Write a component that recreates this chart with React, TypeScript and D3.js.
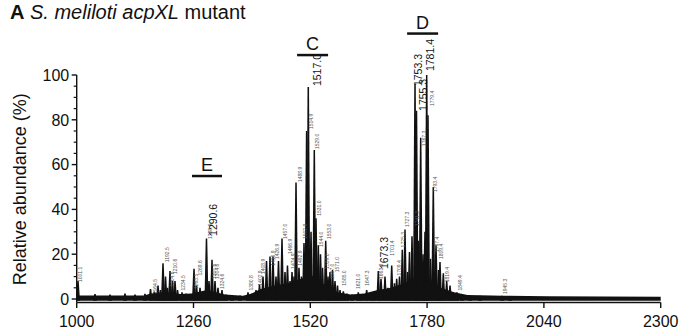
import * as d3 from "d3";

// peaks: [m/z, relative abundance %]
const peaks: [number, number][] = [
  [1002.9, 8], [1040.7, 2.2], [1074.1, 2], [1107.5, 2.5], [1129.8, 2], [1152.0, 2.3],
  [1164.3, 4.5], [1172.7, 3.3], [1181.0, 6], [1186.5, 4], [1192.1, 16], [1197.7, 10],
  [1202.1, 5], [1207.7, 12.5], [1213.3, 8], [1218.8, 8], [1224.4, 4], [1234.4, 3],
  [1243.3, 2.5], [1252.2, 2], [1261.1, 13.5], [1266.7, 6], [1274.5, 5], [1281.1, 3],
  [1288.9, 27], [1294.5, 8], [1301.2, 17.5], [1307.9, 8], [1314.5, 5], [1323.4, 4],
  [1332.3, 2], [1345.7, 1.8], [1363.5, 1.6], [1381.3, 3], [1390.2, 2.5], [1399.1, 4],
  [1406.9, 6.5], [1414.7, 10], [1422.5, 17], [1430.3, 19], [1437.0, 19], [1443.6, 10],
  [1449.2, 17], [1457.0, 27], [1463.7, 12], [1469.2, 15], [1474.8, 8], [1479.3, 12],
  [1483.7, 10], [1488.2, 52], [1494.8, 14], [1500.4, 10], [1506.0, 25], [1511.8, 75],
  [1515.5, 94.6], [1521.6, 30], [1528.9, 66.5], [1532.7, 36], [1537.8, 24], [1542.7, 20],
  [1547.2, 14], [1554.3, 26], [1559.4, 10], [1563.8, 12], [1569.4, 13], [1575.0, 8],
  [1580.5, 6], [1586.1, 4], [1593.5, 3.5], [1601.7, 2.5], [1612.8, 2], [1626.8, 3],
  [1635.1, 2], [1645.5, 4], [1655.1, 2.5], [1661.8, 3.5], [1671.4, 12.5], [1677.4, 9],
  [1686.3, 10], [1692.9, 5], [1701.2, 15], [1707.4, 7], [1712.3, 9], [1718.6, 10],
  [1724.8, 22], [1730.8, 31], [1736.4, 12], [1740.8, 21], [1746.4, 28], [1753.1, 96],
  [1756.4, 84], [1760.9, 26], [1765.7, 72], [1770.9, 20], [1775.3, 30], [1779.1, 100],
  [1782.0, 82], [1787.6, 18], [1793.8, 50], [1799.8, 24], [1805.4, 13], [1808.7, 16.5],
  [1816.1, 11.5], [1823.6, 8], [1831.0, 6], [1837.6, 3], [1846.5, 3], [1857.7, 2],
  [1875.5, 1.5], [1897.7, 1.5], [1946.7, 1.5], [1964.5, 1.2],
];

// unresolved background under the peaks: [m/z, level %]
const background: [number, number][] = [
  [1000, 1.6], [1150, 1.6], [1165, 2.5], [1200, 3], [1230, 2.2], [1255, 2.5],
  [1290, 4], [1310, 3], [1330, 2], [1370, 1.5], [1390, 2.5], [1410, 4.5],
  [1440, 6], [1470, 7], [1500, 9], [1520, 11], [1540, 8], [1560, 5], [1580, 3],
  [1610, 2], [1640, 2.5], [1670, 4], [1700, 5], [1730, 7], [1760, 10], [1790, 8],
  [1810, 5], [1840, 3], [1870, 1.8], [1950, 1.5], [2050, 1.2], [2300, 1.0],
];

// small peak annotations: [m/z of text baseline, level of text start, text]
const smallLabels: [number, number, string][] = [
  [1011.8, 7.1, "1001.1"], [1178.7, 1.8, "1164.5"], [1204.8, 16, "1192.5"],
  [1215.9, 5, "1204.6"], [1223.3, 10.7, "1210.6"], [1241.7, 3.3, "1234.5"],
  [1269.3, 4, "1263.5"], [1278.9, 10, "1269.6"], [1300.5, 26.3, "1288.6"],
  [1309.4, 8.5, "1300.6"], [1316.8, 8.5, "1304.6"], [1327.9, 4, "1324.6"],
  [1391.8, 3.3, "1380.8"], [1412.5, 5.5, "1402.9"], [1419.2, 10.7, "1408.9"],
  [1440.7, 14.4, "1416.9"], [1449.6, 17.4, "1426.9"], [1468.8, 26.3, "1457.0"],
  [1480.0, 19.6, "1466.9"], [1485.3, 13, "1474.9"], [1501.5, 51.8, "1488.9"],
  [1501.5, 14.4, "1492.9"], [1511.9, 26.3, "1502.9"], [1525.3, 75.4, "1514.9"],
  [1540.0, 66.5, "1529.0"], [1543.1, 36.7, "1531.0"], [1548.9, 22.8, "1544.0"],
  [1561.6, 13, "1559.0"], [1566.0, 26.3, "1553.0"], [1573.4, 8.5, "1567.0"],
  [1584.6, 11.5, "1571.0"], [1599.5, 5.5, "1585.0"], [1630.6, 4, "1621.0"],
  [1651.3, 5.5, "1647.3"], [1681.8, 8.5, "1663.3"], [1707.0, 18.9, "1701.4"],
  [1721.9, 10, "1709.4"], [1730.8, 22.6, "1725.3"], [1740.4, 31.7, "1727.3"],
  [1762.6, 32, "1741.3"], [1777.5, 67.8, "1767.3"], [1795.3, 85.7, "1779.4"],
  [1801.4, 47.3, "1793.4"], [1805.8, 20.5, "1797.4"], [1814.7, 17.4, "1809.4"],
  [1828.7, 7, "1819.4"], [1857.0, 3.3, "1849.4"], [1958.5, 1.8, "1945.3"],
];

// large peak annotations
const bigLabels: [number, number, string][] = [
  [1312.3, 27.7, "1290.6"], [1543.8, 94.6, "1517.0"], [1693.6, 12.9, "1673.3"],
  [1768.0, 94.6, "1753.3"], [1779.5, 83.5, "1755.3"], [1794.5, 101.3, "1781.4"],
];

// cluster brackets: [name, m/z start, m/z end, level]
const groups: [string, number, number, number][] = [
  ["E", 1256.7, 1323.5, 54.9],
  ["C", 1490.6, 1559.6, 108.9],
  ["D", 1735.5, 1804.5, 118.5],
];

const xTicks = [1000, 1260, 1520, 1780, 2040, 2300];
const yTicks = [0, 20, 40, 60, 80, 100];

const FONT = "'Liberation Sans', Arial, Helvetica, sans-serif";

export default function App() {
  const width = 679;
  const height = 331;

  const x = d3.scaleLinear().domain([1000, 2300]).range([76.7, 660.7]);
  const y = d3.scaleLinear().domain([0, 100]).range([299, 75]);
  const bandBottom = y(-0.75);
  const axisY = 302.5;

  const bgArea = d3
    .area<[number, number]>()
    .x((d) => x(d[0]))
    .y0(bandBottom)
    .y1((d) => y(d[1]));

  const minorTicks = d3.range(0, 101, 5).filter((v) => v % 20 !== 0);

  return (
    <svg
      width={width}
      height={height}
      style={{ position: "absolute", left: 0, top: 0, background: "#fff" }}
      fontFamily={FONT}
    >
      {/* title */}
      <text x={10} y={18.5} fontSize={20} fill="#111">
        <tspan fontWeight="bold">A</tspan>
        <tspan fontStyle="italic"> S. meliloti acpXL</tspan>
        <tspan> mutant</tspan>
      </text>

      {/* background band */}
      <path d={bgArea(background) || ""} fill="#111" />

      {/* peaks */}
      {peaks.map(([mz, v], i) => {
        const px = x(mz);
        const top = y(v);
        return (
          <path
            key={i}
            d={`M${px - 2},${bandBottom} L${px - 0.75},${top} L${px + 0.75},${top} L${px + 2},${bandBottom} Z`}
            fill="#111"
          />
        );
      })}

      {/* small annotations */}
      {smallLabels.map(([mz, lvl, t], i) => (
        <text
          key={i}
          transform={`translate(${x(mz)},${y(lvl) - 1}) rotate(-90)`}
          fontSize={5}
          fill="#555"
        >
          {t}
        </text>
      ))}

      {/* large annotations */}
      {bigLabels.map(([mz, lvl, t], i) => (
        <text
          key={i}
          transform={`translate(${x(mz)},${y(lvl) - 1}) rotate(-90)`}
          fontSize={10.5}
          fill="#111"
        >
          {t}
        </text>
      ))}

      {/* cluster brackets */}
      {groups.map(([name, a, b, lvl]) => (
        <g key={name}>
          <line x1={x(a)} x2={x(b)} y1={y(lvl)} y2={y(lvl)} stroke="#111" strokeWidth={2.5} />
          <text
            x={(x(a) + x(b)) / 2}
            y={y(lvl) - 5}
            textAnchor="middle"
            fontSize={18}
            fill="#111"
          >
            {name}
          </text>
        </g>
      ))}

      {/* y axis */}
      <line x1={x(1000)} x2={x(1000)} y1={y(100)} y2={axisY} stroke="#111" strokeWidth={1.4} />
      {yTicks.map((t) => (
        <g key={t}>
          <line x1={x(1000) - 5} x2={x(1000)} y1={y(t)} y2={y(t)} stroke="#111" strokeWidth={1.4} />
          <text
            x={x(1000) - 7.5}
            y={y(t)}
            dy="0.36em"
            textAnchor="end"
            fontSize={16}
            fill="#111"
          >
            {t}
          </text>
        </g>
      ))}
      {minorTicks.map((t) => (
        <line key={t} x1={x(1000) - 3} x2={x(1000)} y1={y(t)} y2={y(t)} stroke="#111" strokeWidth={1.2} />
      ))}
      <text
        transform={`translate(25.5,${(y(100) + axisY) / 2 + 0.5}) rotate(-90)`}
        textAnchor="middle"
        fontSize={18}
        fill="#111"
      >
        Relative abundance (%)
      </text>

      {/* x axis */}
      <line x1={x(1000)} x2={x(2300)} y1={axisY} y2={axisY} stroke="#111" strokeWidth={1.5} />
      {xTicks.map((t) => (
        <g key={t}>
          <line x1={x(t)} x2={x(t)} y1={axisY} y2={axisY + 5.5} stroke="#111" strokeWidth={1.4} />
          <text x={x(t)} y={326.5} textAnchor="middle" fontSize={16} fill="#111">
            {t}
          </text>
        </g>
      ))}
    </svg>
  );
}
